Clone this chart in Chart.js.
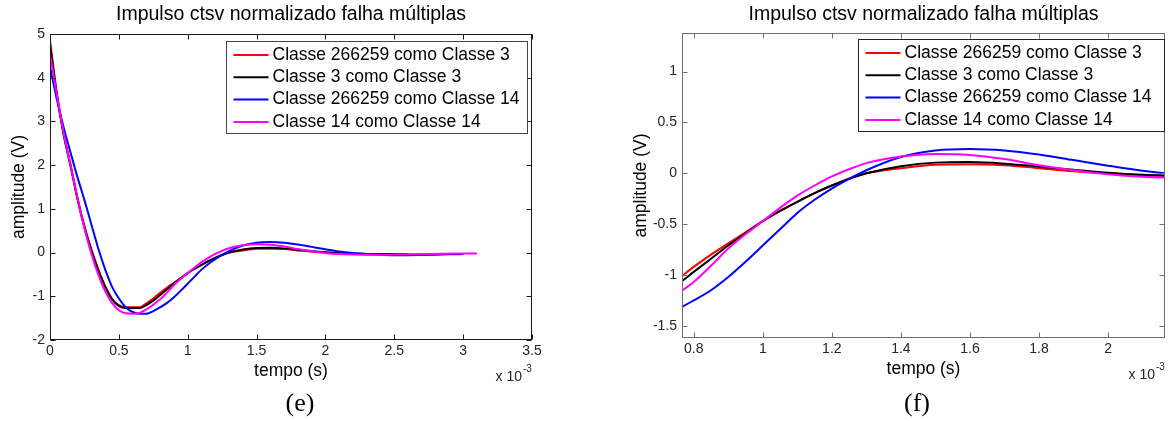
<!DOCTYPE html>
<html lang="pt">
<head>
<meta charset="utf-8">
<title>Impulso ctsv normalizado falha múltiplas</title>
<script src="https://cdn.jsdelivr.net/npm/chart.js@4.4.1/dist/chart.umd.min.js"></script>
<style>
  html, body { margin: 0; padding: 0; background: #fff; }
  #pagina { position: relative; width: 1172px; height: 421px; overflow: hidden; }
  canvas { position: absolute; top: 0; }
  #grafico-e { left: 0; }
  #grafico-f { left: 590px; }
  .rotulo-fig {
    position: absolute; top: 388px; line-height: 30px;
    font-family: "Liberation Serif", "Times New Roman", serif; font-size: 26px; color: #000;
    transform: translateX(-50%);
  }
</style>
</head>
<body>
<div id="pagina">
  <canvas id="grafico-e" width="580" height="421"></canvas>
  <canvas id="grafico-f" width="582" height="421"></canvas>
  <div class="rotulo-fig" style="left:300px">(e)</div>
  <div class="rotulo-fig" style="left:917px">(f)</div>
</div>
<script>
// tempo em ms (eixo mostrado com fator x 10^-3)
const tempo = [0, 0.05, 0.1, 0.15, 0.2, 0.25, 0.3, 0.35, 0.4, 0.45, 0.5, 0.55, 0.6, 0.65, 0.7, 0.75,
  0.8, 0.85, 0.9, 0.95, 1.0, 1.05, 1.1, 1.15, 1.2, 1.25, 1.3, 1.4, 1.5, 1.6, 1.7, 1.8, 1.9, 2.0,
  2.1, 2.2, 2.3, 2.4, 2.5, 2.6, 2.7, 2.8, 2.9, 3.0, 3.1];

const c266259comoC3 = [4.85, 3.65, 2.7, 2.0, 1.23, 0.6, 0.08, -0.38, -0.76, -1.05, -1.2, -1.25, -1.25,
  -1.25, -1.16, -1.05, -0.92, -0.8, -0.69, -0.58, -0.47, -0.37, -0.28, -0.195, -0.12, -0.05, 0.0,
  0.05, 0.085, 0.09, 0.08, 0.05, 0.02, 0.0, -0.02, -0.03, -0.04, -0.04, -0.04];
const c3comoC3 = [4.75, 3.6, 2.68, 1.97, 1.22, 0.58, 0.05, -0.4, -0.78, -1.07, -1.22, -1.27, -1.27,
  -1.27, -1.2, -1.1, -0.97, -0.84, -0.71, -0.59, -0.47, -0.37, -0.28, -0.195, -0.12, -0.055, 0.0,
  0.07, 0.105, 0.11, 0.095, 0.065, 0.035, 0.005, -0.015, -0.025, -0.03, -0.035, -0.035, -0.035];
const c266259comoC14 = [4.25, 3.5, 2.85, 2.28, 1.72, 1.2, 0.65, 0.1, -0.38, -0.78, -1.05, -1.25, -1.36,
  -1.4, -1.4, -1.34, -1.25, -1.15, -1.02, -0.87, -0.71, -0.55, -0.39, -0.26, -0.15, -0.055, 0.03,
  0.16, 0.225, 0.24, 0.225, 0.185, 0.13, 0.075, 0.025, -0.01, -0.035, -0.05, -0.06, -0.06, -0.055,
  -0.05, -0.04, -0.035];
const c14comoC14 = [4.55, 3.6, 2.72, 1.98, 1.25, 0.55, -0.02, -0.5, -0.88, -1.15, -1.32, -1.39, -1.4,
  -1.38, -1.3, -1.19, -1.07, -0.91, -0.74, -0.6, -0.47, -0.34, -0.22, -0.12, -0.03, 0.04, 0.1,
  0.165, 0.19, 0.18, 0.14, 0.08, 0.03, -0.01, -0.035, -0.045, -0.05, -0.05, -0.045, -0.04, -0.035,
  -0.03, -0.025, -0.02, -0.02];

const nomesSeries = ["Classe 266259 como Classe 3", "Classe 3 como Classe 3",
  "Classe 266259 como Classe 14", "Classe 14 como Classe 14"];
const coresSeries = ["#ff0000", "#000000", "#0000ff", "#ff00ff"];
const valoresSeries = [c266259comoC3, c3comoC3, c266259comoC14, c14comoC14];

const ticksXe = [0, 0.5, 1, 1.5, 2, 2.5, 3, 3.5];
const ticksYe = [-2, -1, 0, 1, 2, 3, 4, 5];
const ticksXf = [0.8, 1, 1.2, 1.4, 1.6, 1.8, 2];
const ticksYf = [-1.5, -1, -0.5, 0, 0.5, 1];

const titulo = "Impulso ctsv normalizado falha múltiplas";
const fonte = '"Liberation Sans", Arial, sans-serif';

function formatarTick(v) {
  return String(Math.round(v * 100) / 100);
}

function montarDatasets() {
  return valoresSeries.map((valores, i) => ({
    label: nomesSeries[i],
    data: valores.map((v, k) => ({ x: tempo[k], y: v })),
    borderColor: coresSeries[i],
    borderWidth: 2,
    pointRadius: 0,
    fill: false,
    cubicInterpolationMode: "monotone",
    order: 4 - i,
    clip: 0,
  }));
}

// caixa estilo matlab, ticks para dentro, titulo, fator x10^-3 e legenda
const moldura = {
  id: "moldura",
  afterDraw(chart, args, opts) {
    const { ctx, chartArea: a, scales: { x, y } } = chart;
    const l = Math.round(a.left) + 0.5, r = Math.round(a.right) - 0.5;
    const t = Math.round(a.top) + 0.5, b = Math.round(a.bottom) - 0.5;
    ctx.save();
    ctx.strokeStyle = opts.cor;
    ctx.lineWidth = 1;
    ctx.strokeRect(l, t, r - l, b - t);
    ctx.beginPath();
    x.ticks.forEach((tk) => {
      const px = Math.round(x.getPixelForValue(tk.value)) + 0.5;
      ctx.moveTo(px, b); ctx.lineTo(px, b - 5);
      ctx.moveTo(px, t); ctx.lineTo(px, t + 5);
    });
    y.ticks.forEach((tk) => {
      const py = Math.round(y.getPixelForValue(tk.value)) + 0.5;
      ctx.moveTo(l, py); ctx.lineTo(l + 5, py);
      ctx.moveTo(r, py); ctx.lineTo(r - 5, py);
    });
    ctx.stroke();

    // titulo
    ctx.fillStyle = "#000";
    ctx.font = "19.5px " + fonte;
    ctx.textAlign = "center";
    ctx.textBaseline = "middle";
    ctx.fillText(titulo, (a.left + a.right) / 2, 15);

    // x 10^-3
    ctx.fillStyle = "#262626";
    ctx.font = "14px " + fonte;
    ctx.textAlign = "right";
    ctx.fillText("x 10", a.right - 10, a.bottom + 37);
    ctx.font = "10px " + fonte;
    ctx.textAlign = "left";
    ctx.fillText("-3", a.right - 9, a.bottom + 29);

    // legenda
    const lg = opts.legenda;
    const bx = Math.round(a.right - lg.direita - lg.largura) + 0.5;
    const by = Math.round(a.top + lg.topo) + 0.5;
    ctx.fillStyle = "#fff";
    ctx.fillRect(bx, by, lg.largura, lg.altura);
    ctx.strokeStyle = lg.cor;
    ctx.strokeRect(bx, by, lg.largura, lg.altura);
    ctx.font = "17.5px " + fonte;
    ctx.textBaseline = "middle";
    nomesSeries.forEach((nome, i) => {
      const ly = by + 13.5 + i * 22.3;
      ctx.strokeStyle = coresSeries[i];
      ctx.lineWidth = 2;
      ctx.beginPath();
      ctx.moveTo(bx + 7, ly);
      ctx.lineTo(bx + 42, ly);
      ctx.stroke();
      ctx.fillStyle = "#000";
      ctx.fillText(nome, bx + 46, ly);
    });
    ctx.restore();
  },
};

function criarGrafico(canvas, cfg) {
  return new Chart(canvas, {
    type: "line",
    data: { datasets: montarDatasets() },
    options: {
      responsive: false,
      animation: false,
      devicePixelRatio: 1,
      layout: { padding: cfg.padding },
      plugins: {
        legend: { display: false },
        tooltip: { enabled: false },
        moldura: { cor: cfg.corCaixa, legenda: cfg.legenda },
      },
      scales: {
        x: {
          type: "linear",
          min: cfg.xMin,
          max: cfg.xMax,
          afterBuildTicks: (s) => { s.ticks = cfg.ticksX.map((v) => ({ value: v })); },
          afterFit: (s) => { s.height = 45; },
          grid: { display: false, drawTicks: false },
          border: { display: false },
          ticks: {
            autoSkip: false, maxRotation: 0, padding: 3, color: "#262626",
            font: { family: fonte, size: 14 }, callback: formatarTick,
          },
          title: {
            display: true, text: "tempo (s)", color: "#000",
            font: { family: fonte, size: 17.5 }, padding: { top: 0, bottom: 3 },
          },
        },
        y: {
          type: "linear",
          min: cfg.yMin,
          max: cfg.yMax,
          afterBuildTicks: (s) => { s.ticks = cfg.ticksY.map((v) => ({ value: v })); },
          afterFit: (s) => { s.width = cfg.larguraY; },
          grid: { display: false, drawTicks: false },
          border: { display: false },
          ticks: {
            autoSkip: false, padding: 5, color: "#262626",
            font: { family: fonte, size: 14 }, callback: formatarTick,
          },
          title: {
            display: true, text: "amplitude (V)", color: "#000",
            font: { family: fonte, size: 17.5 }, padding: { top: cfg.padTituloY, bottom: 0 },
          },
        },
      },
    },
    plugins: [moldura],
  });
}

criarGrafico(document.getElementById("grafico-e"), {
  xMin: 0, xMax: 3.5, yMin: -2, yMax: 5,
  ticksX: ticksXe, ticksY: ticksYe,
  larguraY: 50, padTituloY: 8.5,
  padding: { top: 34, right: 48, bottom: 36, left: 0 },
  corCaixa: "#1a1a1a",
  legenda: { direita: 5, topo: 7, largura: 301, altura: 92, cor: "#444" },
});

criarGrafico(document.getElementById("grafico-f"), {
  xMin: 0.766, xMax: 2.165, yMin: -1.62, yMax: 1.38,
  ticksX: ticksXf, ticksY: ticksYf,
  larguraY: 92, padTituloY: 41,
  padding: { top: 33, right: 7, bottom: 38, left: 0 },
  corCaixa: "#6e6e6e",
  legenda: { direita: 1, topo: 6, largura: 306, altura: 92, cor: "#222" },
});
</script>
</body>
</html>
